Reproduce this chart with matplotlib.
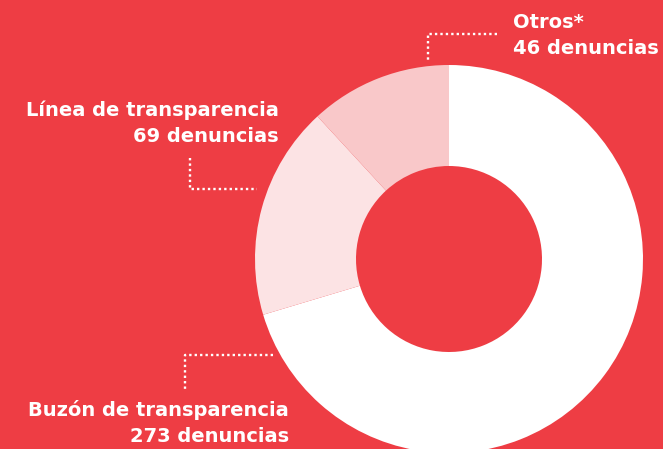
import matplotlib
matplotlib.use("Agg")
import matplotlib.pyplot as plt

# ---------------------------
# Data
# ---------------------------
categories = ["Buzón de transparencia", "Línea de transparencia", "Otros*"]
counts = [273, 69, 46]
slice_colors = ["#FFFFFF", "#FCE3E4", "#F9C8C9"]
bg = "#EE3D44"

W, H = 663, 449

fig = plt.figure(figsize=(W / 100, H / 100), dpi=100, facecolor=bg)
ax = fig.add_axes([0, 0, 1, 1])
ax.set_facecolor(bg)

# donut, pixel coordinates with y measured from bottom
cx, cy = 449, H - 259
r_out, r_in = 194, 93
ax.pie(counts, colors=slice_colors, startangle=90, counterclock=False,
       center=(cx, cy), radius=r_out, frame=True,
       wedgeprops=dict(width=r_out - r_in, linewidth=0))

ax.set_xlim(0, W)
ax.set_ylim(0, H)
ax.set_aspect("equal")
ax.axis("off")

# ---------------------------
# Labels
# ---------------------------
font = dict(color="white", fontsize=14, fontweight="bold", family="DejaVu Sans")

def label(x, y, lines, ha):
    ax.text(x, H - y, lines[0], ha=ha, va="center", **font)
    ax.text(x, H - y - 26, lines[1], ha=ha, va="center", **font)

label(513, 22, [categories[2], f"{counts[2]} denuncias"], "left")
label(279, 110, [categories[1], f"{counts[1]} denuncias"], "right")
label(289, 410, [categories[0], f"{counts[0]} denuncias"], "right")

# dotted leader lines
dot = dict(color="white", lw=1.7, linestyle=(0, (1, 1.3)), solid_capstyle="butt")
ax.plot([497, 428, 428], [H - 34, H - 34, H - 60], **dot)
ax.plot([190, 190, 257], [H - 158, H - 189, H - 189], **dot)
ax.plot([273, 185, 185], [H - 355, H - 355, H - 391], **dot)

fig.savefig("out.png", dpi=100, facecolor=bg)
